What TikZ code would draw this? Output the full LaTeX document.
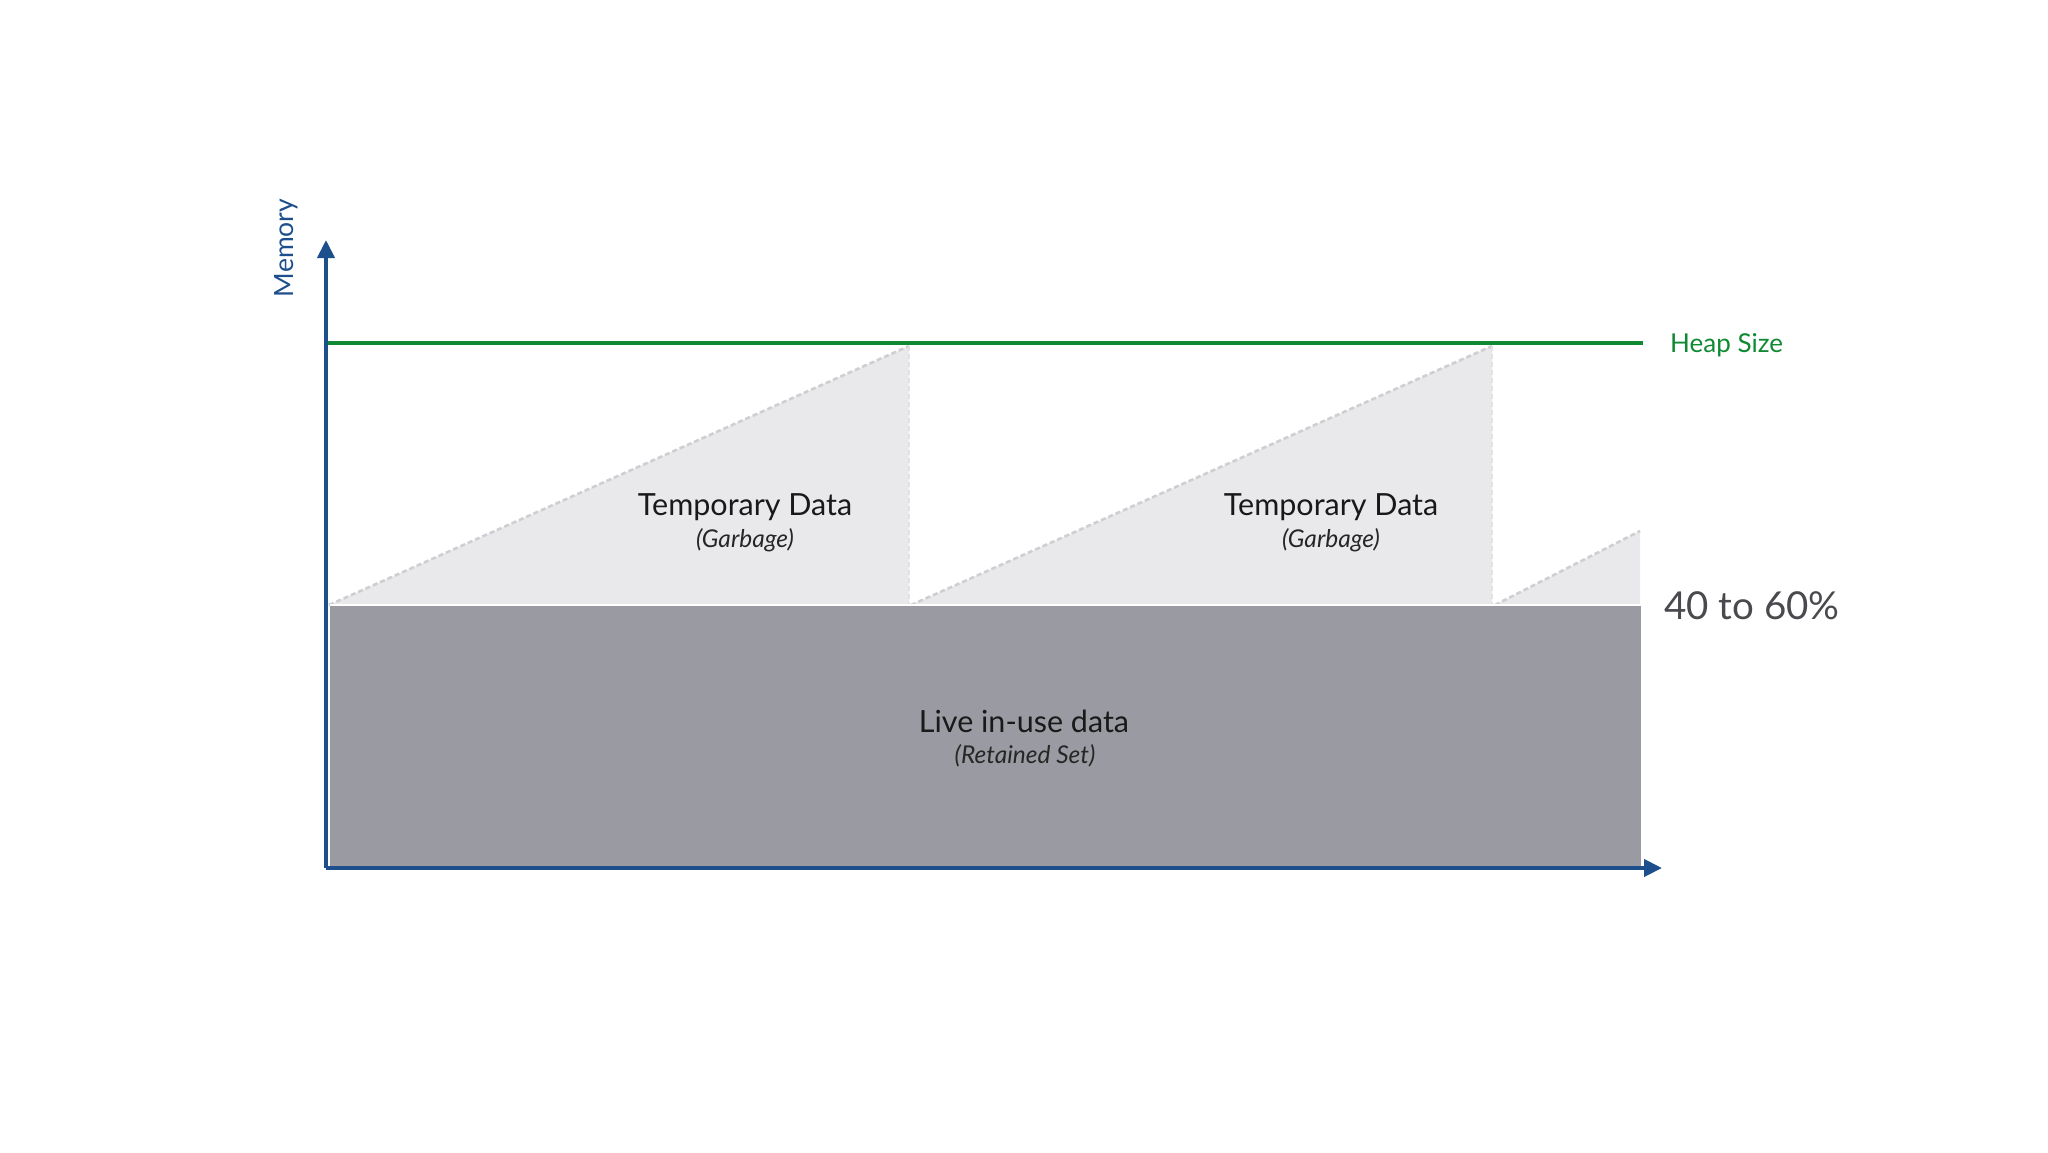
\documentclass[tikz,border=0pt]{standalone}
\usepackage{fontspec}
\setmainfont{Lato}
\usetikzlibrary{arrows.meta}
\definecolor{axisblue}{HTML}{1D4F8C}
\definecolor{heapgreen}{HTML}{0F8A32}
\definecolor{livegrey}{HTML}{9A9BA2}
\definecolor{tempgrey}{HTML}{E9E9EC}
\definecolor{edgegrey}{HTML}{CFCFD3}
\definecolor{pcttext}{HTML}{4A4A4E}
\tikzset{
  axisline/.style={draw=axisblue,line width=4pt,-{Triangle[length=18pt,width=17pt]}},
  heapline/.style={draw=heapgreen,line width=4pt},
  tempfill/.style={fill=tempgrey},
  tempedge/.style={draw=edgegrey,line width=2.6pt,dash pattern=on 5pt off 3pt},
  maintext/.style={font=\fontsize{30.5}{35}\selectfont,text=black!90,inner sep=0pt},
  subtext/.style={font=\fontsize{24.5}{29}\selectfont\itshape,text=black!85,inner sep=0pt},
}
\begin{document}
\begin{tikzpicture}[x=1pt,y=-1pt]
\useasboundingbox[fill=white] (0,0) rectangle (2048,1152);
% coordinates
\coordinate (O) at (326,868);
\coordinate (Ytip) at (326,240);
\coordinate (Xtip) at (1662,868);
\coordinate (H0) at (326,343);
\coordinate (H1) at (1643,343);
% temporary data triangles
\coordinate (T1a) at (329,605);
\coordinate (T1b) at (909,346);
\coordinate (T1c) at (909,605);
\coordinate (T2a) at (911,605);
\coordinate (T2b) at (1492,346);
\coordinate (T2c) at (1492,605);
\coordinate (T3a) at (1495,605);
\coordinate (T3b) at (1640,531);
\coordinate (T3c) at (1640,605);
\fill[tempgrey] (T1a) -- (T1b) -- (T1c) -- cycle;
\fill[tempgrey] (T2a) -- (T2b) -- (T2c) -- cycle;
\fill[tempgrey] (T3a) -- (T3b) -- (T3c) -- cycle;
\draw[tempedge] (T1a) -- (T1b);
\draw[tempedge,draw=edgegrey!60] (T1b) -- (T1c);
\draw[tempedge] (T2a) -- (T2b);
\draw[tempedge,draw=edgegrey!60] (T2b) -- (T2c);
\draw[tempedge] (T3a) -- (T3b);
% live data
\fill[livegrey] (330,606) rectangle (1641,868);
\draw[white,line width=1.5pt] (330,605) -- (1641,605);
% heap line
\draw[heapline] (H0) -- (H1);
% axes
\draw[axisline] (O) -- (Ytip);
\draw[axisline] (O) -- (Xtip);
% texts
\node[maintext] (temp1) at (745,507) {Temporary Data};
\node[subtext] (garb1) at (745,540) {(Garbage)};
\node[maintext] (temp2) at (1331,507) {Temporary Data};
\node[subtext] (garb2) at (1331,540) {(Garbage)};
\node[maintext] (live) at (1024,721) {Live in-use data};
\node[subtext] (ret) at (1025,756) {(Retained Set)};
\node[font=\fontsize{26}{30}\selectfont,text=heapgreen,anchor=west,inner sep=0pt] (heap) at (1670,345) {Heap Size};
\node[font=\fontsize{38.5}{44}\selectfont,text=pcttext,anchor=west,inner sep=0pt] (pct) at (1664,606) {40 to 60\%};
\node[font=\fontsize{26.5}{30}\selectfont,text=axisblue,rotate=90,inner sep=0pt] (mem) at (286,248) {Memory};
\end{tikzpicture}
\end{document}
